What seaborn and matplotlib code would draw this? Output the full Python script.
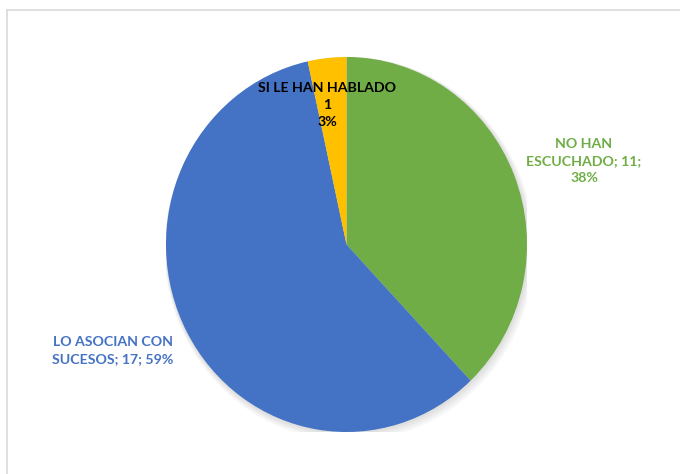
import matplotlib
matplotlib.use("Agg")
import matplotlib.pyplot as plt
import seaborn as sns
from matplotlib.lines import Line2D
from matplotlib.patches import Ellipse

sns.set_theme(style="white")
plt.rcParams['font.family'] = ['Lato', 'DejaVu Sans']

categories = ["NO HAN ESCUCHADO", "LO ASOCIAN CON SUCESOS", "SI LE HAN HABLADO"]
values = [11, 17, 1]
colors = ["#70AD47", "#4472C4", "#FFC000"]

total = sum(values)
pcts = [round(v * 100 / total) for v in values]

W, H = 680, 474
fig = plt.figure(figsize=(W / 100, H / 100), dpi=100)
fig.patch.set_facecolor("white")

# pie axes placed in pixel box
l, r, t, b = 166, 527, 57, 432
ax = fig.add_axes([l / W, 1 - b / H, (r - l) / W, (b - t) / H])

# soft shadow
for i, a in enumerate([0.03, 0.03, 0.03, 0.03]):
    ax.add_patch(Ellipse((0.004 * (i + 1), -0.006 * (i + 1)), 2 + 0.012 * (i + 1),
                         2 + 0.012 * (i + 1), facecolor="black", alpha=a,
                         edgecolor="none", zorder=0))

wedges, _ = ax.pie(values, colors=colors, startangle=90, counterclock=False,
                   radius=1.0, wedgeprops=dict(linewidth=0, zorder=2))
ax.set_aspect("auto")
ax.set_xlim(-1, 1)
ax.set_ylim(-1, 1)
ax.axis("off")

cx, cy = (l + r) / 2, (t + b) / 2
rx, ry = (r - l) / 2, (b - t) / 2


def to_data(px, py):
    return (px - cx) / rx, (cy - py) / ry


fs = 10.2
lbls = [
    (f"NO HAN\nESCUCHADO; {values[0]};\n{pcts[0]}%", (584, 161), colors[0]),
    (f"LO ASOCIAN CON\nSUCESOS; {values[1]}; {pcts[1]}%", (113, 351), colors[1]),
    (f"SI LE HAN HABLADO\n{values[2]}\n{pcts[2]}%", (327, 105), "black"),
]
for txt, (px, py), c in lbls:
    x, y = to_data(px, py)
    ax.text(x, y, txt, ha="center", va="center", color=c, fontsize=fs,
            fontweight="bold", linespacing=1.5, clip_on=False, zorder=5)

# chart frame border (cropped at right/bottom)
fig.add_artist(Line2D([7 / W, 7 / W], [0, 1 - 10 / H], transform=fig.transFigure,
                      color="#D9D9D9", linewidth=1.2))
fig.add_artist(Line2D([7 / W, 1], [1 - 10 / H, 1 - 10 / H], transform=fig.transFigure,
                      color="#D9D9D9", linewidth=1.2))

fig.savefig("out.png", dpi=100, facecolor="white")
